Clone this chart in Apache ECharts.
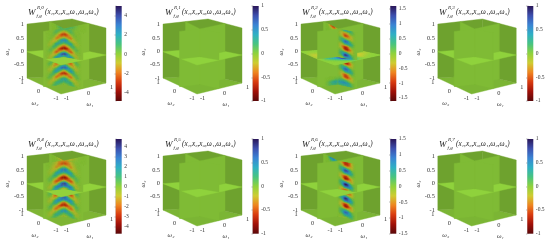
<!DOCTYPE html>
<html><head><meta charset="utf-8">
<style>html,body{margin:0;padding:0;background:#fff}#c{width:550px;height:245px}</style>
<script src="https://cdn.jsdelivr.net/npm/echarts@6/dist/echarts.min.js"></script>
</head><body><div id="c"></div>
<script>
// ---- labels and ticks
const superscripts = ['R,0','R,1','R,2','R,3','R,4','R,5','R,6','R,7'];
const titleArgs = '(x₁,x₂,x₃,ω₁,ω₂,ω₃)';
const axisNames = ['ω₁','ω₂','ω₃'];
const omega3Ticks = [1,0.5,0,-0.5,-1];
const omega2Ticks = [1,0,-1];
const omega1Ticks = [-1,0,1];
const barRanges = [[-4.86,5],[-1,1],[-1.6,1.6],[-1,1],[-4.7,4.8],[-1,1],[-1.5,1.5],[-1,1]];
const barTicks = [
  [-4,-2,0,2,4],[-1,-0.5,0,0.5,1],[-1.5,-1,-0.5,0,0.5,1,1.5],[-1,-0.5,0,0.5,1],
  [-4,-3,-2,-1,0,1,2,3,4],[-1,-0.5,0,0.5,1],[-1.5,-1,-0.5,0,0.5,1,1.5],[-1,-0.5,0,0.5,1]];
const colorMap = ['#5a080a','#a01008','#d83a10','#ee8420','#cfcc32','#8fd23c','#48c480','#2fb0c4','#3a84d4','#3d4fae','#2a1658'];

// ---- read values: each inner array is a column along the plane, rows run omega3 = 1 ... -1 in steps of 0.1
const chevronR0 = [
 [1.2,-0.9,-3.1,-1.1,2.9,1.2,-1.6,-4.2,-0.3,4.7,0.6,-4,-1.9,1.7,3.8,-0.7,-3.5,-0.8,2,1.2,-0.2],
 [1.1,-0.6,-2.8,-1.3,2.4,1.4,-1.2,-3.8,-0.8,4,1.2,-3.3,-2.2,1.2,3.5,-0.1,-3.1,-1.1,1.6,1.3,0],
 [1,0.1,-1.7,-1.8,0.8,1.7,-0.2,-2.5,-1.9,1.9,2.2,-1.4,-2.5,-0.1,2.3,1.3,-1.8,-1.8,0.5,1.4,0.4],
 [0.6,0.8,-0.6,-2,-0.7,1.9,0.8,-1,-2.7,-0.2,3.1,0.4,-2.6,-1.2,1.1,2.5,-0.5,-2.3,-0.5,1.3,0.8],
 [0.2,0.4,0.2,-0.6,-1.1,0.3,1.2,0.1,-1.4,-1,1.2,1.5,-0.9,-1.6,0.2,1.4,0.9,-0.9,-1.1,0.3,0.9],
 [0,0,0.2,0,-0.6,-0.6,0.3,0.6,0,-0.8,-0.6,0.6,0.7,-0.5,-0.8,0,0.8,0.4,-0.6,-0.6,0.2],
 [0,0,0,0.1,-0.1,-0.4,-0.1,0.3,0.1,-0.2,-0.5,0,0.6,0.1,-0.5,-0.2,0.2,0.5,-0.1,-0.4,-0.1]];
const backR0 = [[1.2,-1.2,-1],[1.2,-0.3,-0.4],[1,0.3,0],[0.7,0.3,0],[0.3,0.2,0],[0.1,0,0],[0,0,0]];
const chevronR4 = [
 [-1.6,-2.6,-0.3,3,2,-1.2,-4.1,-1.5,4.2,3,-1.7,-4.4,-0.7,3.6,2.5,-2,-3.5,0.1,2.5,0.6,-0.6],
 [-1.5,-2.4,-0.6,2.6,2.1,-0.9,-3.6,-1.8,3.6,3.1,-1.2,-3.9,-1.1,3,2.5,-1.6,-3.2,-0.3,2.2,0.8,-0.4],
 [-1.4,-1.8,-1.2,1.1,2.1,0.3,-2.3,-2.4,1.1,3.1,0.5,-2.6,-2.2,1.2,2.6,0.2,-2.3,-1.4,1.1,1.3,0],
 [-0.8,-1,-1.7,-0.2,2,1.3,-0.8,-2.7,-1,2.7,2,-1.1,-2.9,-0.5,2.3,1.6,-1.3,-2.3,0.1,1.6,0.4],
 [-0.3,-0.6,-0.9,-0.8,0.4,1.3,0.1,-1.5,-1.2,0.9,1.7,-0.2,-1.8,-1.2,0.9,1.4,-0.4,-1.5,-0.6,0.7,0.8],
 [0,-0.2,-0.4,-0.6,-0.4,0.4,0.7,0.1,-0.7,-0.8,0.4,1,0.2,-0.9,-0.7,0.4,0.9,0.1,-0.8,-0.5,0.4],
 [0,0,0,-0.2,-0.3,0,0.4,0.2,-0.1,-0.5,-0.2,0.5,0.4,-0.2,-0.5,-0.1,0.4,0.3,-0.2,-0.4,0]];
const backR4 = [[-1.6,-0.6,0],[-1.5,-0.5,0],[-1,-0.3,0],[-0.6,-0.2,0],[-0.3,-0.1,0],[-0.1,0,0],[0,0,0]];
const bandsR2 = [
 [0,0,0,0,0,0,0,0,0,0,0,0,0,0,0,0,0,0,0.1,0.5,0.2],
 [0,-0.2,-0.1,0.2,0.2,-0.2,-0.3,0,0.3,0.2,-0.2,-0.3,0,0.2,0.2,-0.1,-0.2,0,0.2,0.7,0.3],
 [0.2,-0.4,-0.4,0.3,0.5,-0.1,-0.7,-0.3,0.5,0.6,-0.2,-0.7,-0.3,0.4,0.5,-0.1,-0.5,-0.3,0.3,0.8,0.3],
 [0.75,-0.5,-1,-0.1,1.2,0.4,-1.1,-1.1,0.4,1.6,0.3,-1.1,-1.1,0.3,1.2,0.4,-0.9,-0.9,0.2,0.8,0.3],
 [0.7,-0.3,-0.9,-0.3,1,0.6,-0.9,-1.2,0.1,1.4,0.5,-0.8,-1.2,0,1.1,0.6,-0.7,-1,0,0.7,0.4],
 [0.5,0.1,-0.5,-0.4,0.4,0.6,-0.2,-0.8,-0.2,0.7,0.7,-0.3,-0.8,-0.3,0.5,0.6,-0.2,-0.6,-0.2,0.4,0.4],
 [0.2,0.2,-0.2,-0.3,0,0.4,0.1,-0.3,-0.3,0.1,0.5,0.1,-0.3,-0.3,0.1,0.4,0.1,-0.3,-0.3,0.1,0.2]];
const floorBlobR2 = [[0.1,0.5,0.2],[0.1,0.6,0.3],[0,0.5,0.3],[0,0.3,0.2],[0,0.1,0.1]];
const backR2 = [[0,0,0],[-0.4,-0.1,0],[-0.9,-0.3,0],[-1,-0.3,0],[-0.8,-0.2,0],[-0.3,0,0],[0,0,0]];
const sliceR2 = [
 [0,0,0,0,-0.1,-0.2,-0.1,0,0],
 [0,0,0,0.1,0.1,-0.2,-0.3,-0.1,0],
 [0,0,0.1,0.3,0.5,0.1,-0.2,-0.1,0],
 [0,0.1,0.4,0.7,0.6,0.2,0,0,0],
 [0,0.5,1.3,1.7,1,0.3,0,0,0],
 [0,0.1,0.2,0.1,0,0,0,0,0],
 [0,-0.1,-0.3,-0.4,-0.3,-0.1,0,0,0],
 [0,0,-0.1,-0.3,-0.3,-0.1,0,0,0],
 [0,0,0,-0.1,-0.1,0,0,0,0]];
const bandsR6 = [
 [0,0,0,0,0,0,0,0,0,0,0,0,0,0,0,0,0,0,0,0,0],
 [-0.2,0,0.3,0.2,-0.1,-0.3,0,0.3,0.2,-0.1,-0.3,-0.1,0.3,0.3,-0.1,-0.3,-0.1,0.2,0.2,0,-0.1],
 [-0.6,-0.3,0.4,0.6,0,-0.6,-0.4,0.5,0.7,0,-0.7,-0.4,0.4,0.7,0.1,-0.6,-0.4,0.3,0.5,0.1,-0.1],
 [-1,-0.9,0.3,1.3,0.5,-0.9,-1.2,0.3,1.6,0.7,-1,-1.3,0.2,1.5,0.8,-0.9,-1.2,0.2,1.1,0.5,-0.2],
 [-0.9,-1,-0.1,1.2,0.6,-0.7,-1.2,0,1.5,0.9,-0.8,-1.3,0,1.3,1,-0.7,-1.2,0,1,0.6,-0.1],
 [-0.7,-0.7,-0.2,0.6,0.6,-0.1,-0.7,-0.3,0.7,0.8,-0.1,-0.8,-0.4,0.6,0.8,0,-0.7,-0.3,0.5,0.6,0.1],
 [-0.2,-0.3,-0.3,0.1,0.4,0.1,-0.3,-0.4,0.1,0.5,0.2,-0.3,-0.4,0.1,0.5,0.2,-0.3,-0.4,0.1,0.3,0.2]];
const backR6 = [[0,0,0],[0.4,0.1,0],[0.8,0.3,0],[0.9,0.4,0],[0.8,0.3,0],[0.4,0.1,0],[0,0,0]];

// ---- which read array lies on which half plane of each panel
const panelFaces = [
 {A:chevronR0,B:chevronR0,C:backR0,D:backR0},{},
 {A:null,Afloor:floorBlobR2,B:bandsR2,C:backR2,slice:sliceR2},{},
 {A:chevronR4,B:chevronR4,C:backR4,D:backR4},{},
 {B:bandsR6,C:backR6},{}];

// ---- page layout of the panels
const panelX=[0,136,274,411,0,136,274,411], panelY=[0,0,0,0,132,132,132,132];
const barX=[115.7,252.7,390.3,527.3,115.7,252.7,390.3,527.3];
const barTop=[6,6,6,6,139,139,139,139], barH=[95,95,95,95,94.7,94.7,94.7,94.7];
const titleX=[28,165,302,439,28,165,302,439], titleY=[8,8,8,8,140,140,140,140];

// ---- drawing of the 3D box in panel-local units
const planX=[[61,43.5,27],[83,64,49.5],[106,89,72]];
const planY=[[65,59,51.7],[60,56.7,50],[55,51.5,48]];
const upH=[[27.5,27.6],[27,29]], downH=[[29,26.3],[28,27]];
function bil(g,fa,fb){return g[0][0]*(1-fa)*(1-fb)+g[0][1]*(1-fa)*fb+g[1][0]*fa*(1-fb)+g[1][1]*fa*fb;}
function project(a,b,s){
  const i=a<0?0:1,j=b<0?0:1,fa=a+1-i,fb=b+1-j;
  const q=g=>[[g[i][j],g[i][j+1]],[g[i+1][j],g[i+1][j+1]]];
  const x=bil(q(planX),fa,fb),y0=bil(q(planY),fa,fb);
  const FA=(a+1)/2,FB=(b+1)/2;
  const y=y0-(s>0?s*bil(upH,FA,FB):s*bil(downH,FA,FB));
  return [x,y];
}
function colorFor(v,r){return echarts.color.lerp(Math.max(0,Math.min(1,(v-r[0])/(r[1]-r[0]))),colorMap);}
function shade(c,k){const p=echarts.color.parse(c);return 'rgb('+Math.round(p[0]*k)+','+Math.round(p[1]*k)+','+Math.round(p[2]*k)+')';}

const series=[],grid=[],xAxis=[],yAxis=[],title=[];
const serif='"Liberation Serif","DejaVu Serif",serif';

function faceSeries(g,range,lift,box,toBox,val,cells){
  const data=[[-1,-1]].concat(cells);
  series.push({type:'custom',coordinateSystem:'cartesian2d',xAxisIndex:g,yAxisIndex:g,silent:true,clip:false,animation:false,data,
    renderItem(params,api){
      const c=api.value(0),r=api.value(1);
      const poly=(p0,q0,p1,q1,fill)=>{
        const pts=[[p0,q0],[p1,q0],[p1,q1],[p0,q1]].map(([p,q])=>{const w=toBox(p,q);return api.coord(project(w[0],w[1],w[2]));});
        return {type:'polygon',shape:{points:pts},style:{fill,stroke:fill,lineWidth:0.4}};
      };
      if(c<0) return poly(box[0],box[1],box[2],box[3],shade(colorFor(0,range),lift));
      const n=3,kids=[];
      const v00=val(c,r),v10=val(c+1,r),v01=val(c,r+1),v11=val(c+1,r+1);
      for(let i=0;i<n;i++)for(let j=0;j<n;j++){
        const u=(i+.5)/n,w=(j+.5)/n;
        const v=v00*(1-u)*(1-w)+v10*u*(1-w)+v01*(1-u)*w+v11*u*w;
        kids.push(poly(c+i/n,r+j/n,c+(i+1)/n,r+(j+1)/n,shade(colorFor(v,range),lift)));
      }
      return {type:'group',children:kids};
    }});
}
const reader=(m,rowStart)=>(c,r)=>{const col=m&&m[c];if(!col)return 0;const x=col[r-(rowStart||0)];return x===undefined?0:x;};
function cellsFor(m,r0,r1){
  const out=[];
  if(!m) return out;
  for(let c=0;c<m.length;c++)for(let r=r0;r<r1;r++)out.push([c,r]);
  return out;
}
const SH_WALL=0.77,SH_FLOOR=0.86,SH_PLANE=0.89,SH_SLICE=1;
const sOf=r=>1-r*0.1,tOf=c=>c/8;

for(let k=0;k<8;k++){
  grid.push({left:panelX[k],top:panelY[k],width:140,height:113});
  xAxis.push({type:'value',min:0,max:140,show:false,gridIndex:k});
  yAxis.push({type:'value',min:0,max:113,inverse:true,show:false,gridIndex:k});
}
for(let k=0;k<8;k++){
  const F=panelFaces[k],R=barRanges[k];
  faceSeries(k,R,SH_FLOOR,[0,0,1,1],(p,q)=>[-1+2*p,-1+2*q,-1],()=>0,[]);
  faceSeries(k,R,SH_WALL,[0,0,1,1],(p,q)=>[-1+2*p,1,1-2*q],()=>0,[]);
  faceSeries(k,R,SH_WALL,[0,0,1,1],(p,q)=>[1,-1+2*p,1-2*q],()=>0,[]);
  const half={
    A:(p,q)=>[-tOf(p),0,sOf(q)],
    B:(p,q)=>[0,-tOf(p),sOf(q)],
    C:(p,q)=>[0,tOf(p),sOf(q)],
    D:(p,q)=>[tOf(p),0,sOf(q)]};
  const bottom=(name)=>{
    const m=F[name]; let val=reader(m,0),cells=cellsFor(m,10,20);
    if(name==='A'&&F.Afloor){val=reader(F.Afloor,18);cells=[];for(let c=0;c<F.Afloor.length;c++)for(let r=17;r<20;r++)cells.push([c,r]);}
    if(name==='C'||name==='D')cells=[];
    faceSeries(k,R,SH_PLANE,[0,10,8,20],half[name],val,cells);
  };
  const top=(name)=>{
    const m=F[name]; const val=reader(m,0);
    const cells=(name==='C'||name==='D')?cellsFor(m,0,3):cellsFor(m,0,10);
    faceSeries(k,R,SH_PLANE,[0,0,8,10],half[name],val,cells);
  };
  ['C','D','A','B'].forEach(bottom);
  const sliceMap=(p,q)=>[-1+0.25*p,-1+0.25*q,0];
  const sl=F.slice; const sc=[];
  if(sl)for(let i=0;i<8;i++)for(let j=0;j<8;j++)sc.push([i,j]);
  faceSeries(k,R,SH_SLICE,[0,0,8,8],sliceMap,(i,j)=>sl?sl[i][j]:0,sc);
  ['C','D','A','B'].forEach(top);
  const items=[];
  omega3Ticks.forEach(v=>items.push([3,v]));
  omega2Ticks.forEach(v=>items.push([2,v]));
  omega1Ticks.forEach(v=>items.push([1,v]));
  series.push({type:'custom',coordinateSystem:'cartesian2d',xAxisIndex:k,yAxisIndex:k,silent:true,clip:false,animation:false,data:items,
    renderItem(params,api){
      const kind=api.value(0),v=api.value(1);
      let p,dx,dy,align='center';
      if(kind===3){p=project(-1,1,v);dx=-3;dy=0;align='right';}
      if(kind===2){p=project(-1,v,-1);dx=-5;dy=4.7;}
      if(kind===1){p=project(v,-1,-1);dx=5.5;dy=4.5;}
      const c=api.coord([p[0]+dx,p[1]+dy]);
      return {type:'text',x:c[0],y:c[1],style:{text:String(v),font:'6.3px '+serif,fill:'#333',align,verticalAlign:'middle'}};
    }});
  series.push({type:'custom',coordinateSystem:'cartesian2d',xAxisIndex:k,yAxisIndex:k,silent:true,clip:false,animation:false,data:[[0,90,104,0],[1,35,103.5,0],[2,7,52,1]],
    renderItem(params,api){
      const n=api.value(0),c=api.coord([api.value(1),api.value(2)]);
      const rot=api.value(3)?Math.PI/2:0;
      return {type:'text',x:c[0],y:c[1],rotation:rot,style:{text:axisNames[n],font:'italic 6.5px '+serif,fill:'#333',align:'center',verticalAlign:'middle'}};
    }});
  const tx=titleX[k],ty=titleY[k];
  const ts={fontFamily:serif,fontStyle:'italic',fontWeight:'normal',color:'#222'};
  title.push({text:'W',left:tx,top:ty,padding:0,textStyle:{...ts,fontSize:9}});
  title.push({text:superscripts[k],left:tx+9,top:ty-3,padding:0,textStyle:{...ts,fontSize:5}});
  title.push({text:'f,g',left:tx+8.5,top:ty+5.5,padding:0,textStyle:{...ts,fontSize:5}});
  title.push({text:titleArgs,left:tx+17,top:ty+0.6,padding:0,textStyle:{...ts,fontSize:7.2}});
}
for(let k=0;k<8;k++){
  const g=8+k,R=barRanges[k];
  grid.push({left:barX[k],top:barTop[k],width:6,height:barH[k]});
  xAxis.push({type:'value',min:0,max:1,show:false,gridIndex:g});
  yAxis.push({type:'value',min:R[0],max:R[1],gridIndex:g,position:'right',splitLine:{show:false},
    axisLine:{show:true,lineStyle:{color:'#444',width:0.4}},
    axisTick:{show:true,inside:true,length:1.2,customValues:barTicks[k],lineStyle:{color:'#444',width:0.4}},
    axisLabel:{margin:2.5,fontSize:5.5,fontFamily:serif,color:'#333',customValues:barTicks[k]}});
  series.push({type:'custom',coordinateSystem:'cartesian2d',xAxisIndex:g,yAxisIndex:g,silent:true,animation:false,clip:false,data:[[0,R[0],1,R[1]]],
    renderItem(params,api){
      const a=api.coord([api.value(0),api.value(3)]),b=api.coord([api.value(2),api.value(1)]);
      const stops=colorMap.map((c,i)=>({offset:1-i/(colorMap.length-1),color:c})).reverse();
      return {type:'rect',shape:{x:a[0],y:a[1],width:b[0]-a[0],height:b[1]-a[1]},
        style:{fill:new echarts.graphic.LinearGradient(0,0,0,1,stops)}};
    }});
}
const chart=echarts.init(document.getElementById('c'),null,{renderer:'canvas'});
chart.setOption({animation:false,backgroundColor:'#fff',title,grid,xAxis,yAxis,series});
</script></body></html>
